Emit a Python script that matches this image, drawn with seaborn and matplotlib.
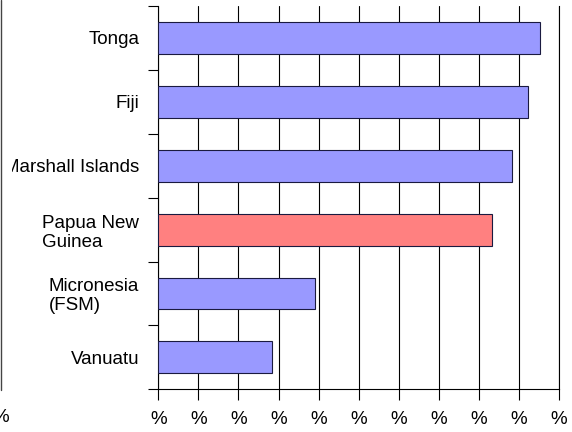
import matplotlib
matplotlib.use("Agg")
import matplotlib.pyplot as plt
from matplotlib.lines import Line2D
from matplotlib.patches import Rectangle
import seaborn as sns
import pandas as pd

# Share values per country (axis units)
countries = ["Tonga", "Fiji", "Marshall Islands", "Papua New\nGuinea", "Micronesia\n(FSM)", "Vanuatu"]
values = [9.53, 9.22, 8.82, 8.32, 3.92, 2.83]
bar_colors = ["#9999FF", "#9999FF", "#9999FF", "#FF8080", "#9999FF", "#9999FF"]
x_ticks = list(range(0, 11))
x_tick_labels = ["%"] * len(x_ticks)

df = pd.DataFrame({"country": countries, "value": values})

sns.set_style("white")
plt.rcParams["font.family"] = ["Liberation Sans", "DejaVu Sans"]
plt.rcParams["text.color"] = "black"
plt.rcParams["xtick.labelcolor"] = "black"
plt.rcParams["ytick.labelcolor"] = "black"

FS = 13.5
PX = 0.72  # points per pixel at 100 dpi

fig = plt.figure(figsize=(5.72, 4.32), dpi=100)
ax = fig.add_axes([158.3 / 572, 1 - 389.3 / 432, (559 - 158.3) / 572, (389.3 - 6) / 432])

sns.barplot(data=df, x="value", y="country", hue="country", palette=bar_colors,
            orient="h", width=0.5, saturation=1, edgecolor="#1a1a40", linewidth=0.8,
            legend=False, ax=ax, zorder=3)

ax.set_xlim(0, 10)
ax.set_ylim(len(countries) - 0.5, -0.5)
ax.set_xlabel("")
ax.set_ylabel("")

# vertical gridlines
ax.set_xticks(x_ticks)
ax.set_xticklabels(x_tick_labels, fontsize=FS, color="black")
ax.xaxis.grid(True, color="black", linewidth=0.8, zorder=0)
ax.set_axisbelow(True)
ax.tick_params(axis="x", direction="out", length=11 * PX, width=0.8, color="black",
               pad=11 * PX, bottom=True)

# category ticks sit on the boundaries between bars
ax.set_yticks(range(len(countries)))
ax.set_yticklabels(countries, fontsize=FS, color="black")
for lbl in ax.get_yticklabels():
    lbl.set_multialignment("left")
    lbl.set_linespacing(1.15)
ax.set_yticks([i - 0.5 for i in range(len(countries) + 1)], minor=True)
ax.tick_params(axis="y", which="major", length=0, pad=19 * PX)
ax.tick_params(axis="y", which="minor", direction="out", length=10 * PX, width=0.8,
               color="black", left=True)

ax.spines["top"].set_visible(False)
for side in ["left", "bottom", "right"]:
    ax.spines[side].set_visible(True)
    ax.spines[side].set_color("black")
    ax.spines[side].set_linewidth(0.8)

# frame edge, its clipping of the long label, and stray tick label at the far left
fig.add_artist(Rectangle((2.5 / 572, 1 - 180 / 432), 9.2 / 572, 30 / 432,
                         transform=fig.transFigure, facecolor="white",
                         edgecolor="none", zorder=10))
fig.add_artist(Line2D([1.2 / 572, 1.2 / 572], [1.0, 1 - 390 / 432],
                      transform=fig.transFigure, color="#444444", linewidth=1.0,
                      zorder=11))
fig.text(0.5 / 572, 1 - 418 / 432, "%", ha="center", va="center", fontsize=FS,
         color="black")

fig.savefig("out.png", dpi=100)
